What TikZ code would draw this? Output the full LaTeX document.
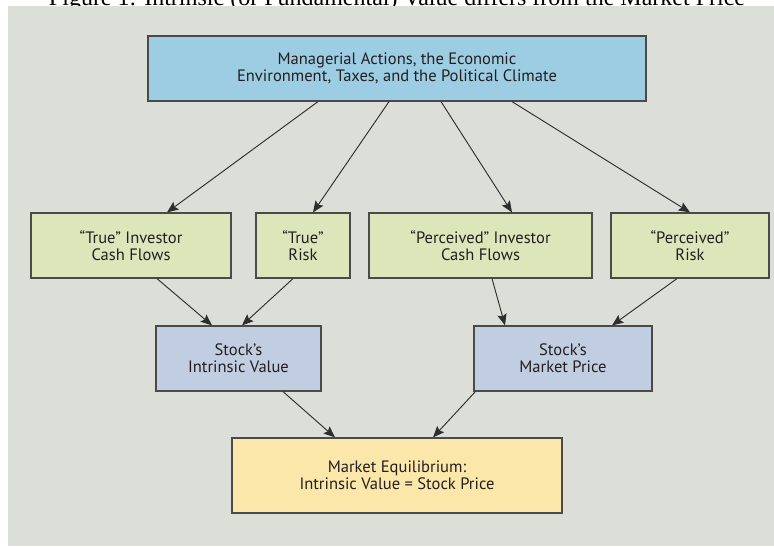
\documentclass[tikz,border=0pt]{standalone}
\usepackage{fontspec}
\setmainfont{PT Sans}
\newfontfamily\capfont{Liberation Serif}
\usepackage{tikz}
\usetikzlibrary{positioning,calc,arrows.meta}

\definecolor{panelgrey}{HTML}{DCDED8}
\definecolor{topblue}{HTML}{9CCDE3}
\definecolor{ingreen}{HTML}{DDE6BA}
\definecolor{valblue}{HTML}{C1CEE1}
\definecolor{eqyellow}{HTML}{FCE7AA}
\definecolor{boxline}{HTML}{4A4A4A}
\definecolor{arrline}{HTML}{2E2E2E}
\definecolor{inkdark}{HTML}{231F20}

\tikzset{
  box/.style={draw=boxline, line width=0.9pt, inner sep=0pt, align=center,
    minimum height=65*0.75pt, text=inkdark,
    font=\fontsize{12.4}{12.75}\selectfont},
  topbox/.style={box, fill=topblue},
  inbox/.style={box, fill=ingreen},
  valbox/.style={box, fill=valblue},
  eqbox/.style={box, fill=eqyellow, minimum height=75*0.75pt},
  arr/.style={-{Stealth[length=8.5pt,width=7pt,inset=1.5pt]}, draw=arrline, line width=0.7pt}
}

\begin{document}
\begin{tikzpicture}[x=0.75pt,y=-0.75pt]
    \useasboundingbox (0,0) rectangle (774,546);
    \clip (0,0) rectangle (774,546);

    % Caption (cut off at the top)
    \node[anchor=base, inner sep=0pt, font=\capfont\fontsize{18}{20}\selectfont] (title) at (397,5)
        {Figure 1: Intrinsic (or Fundamental) Value differs from the Market Price};

    % Panel
    \fill[panelgrey] (8,6) rectangle (774,546);

    % Driving forces
    \node[topbox, minimum width=498*0.75pt] (top) at (397,68.5)
        {Managerial Actions, the Economic\\Environment, Taxes, and the Political Climate};

    % Inputs
    \node[inbox, minimum width=200*0.75pt] (tcf) at (131,245.5) {``True'' Investor\\Cash Flows};
    \node[inbox, minimum width=94*0.75pt] (trisk) at (303,245.5) {``True''\\Risk};
    \node[inbox, minimum width=223*0.75pt] (pcf) at (480.5,245.5) {``Perceived'' Investor\\Cash Flows};
    \node[inbox, minimum width=158*0.75pt] (prisk) at (690,245.5) {``Perceived''\\Risk};

    % Values
    \node[valbox, minimum width=165*0.75pt] (iv) at (238.5,358.5) {Stock's\\Intrinsic Value};
    \node[valbox, minimum width=178*0.75pt] (mp) at (563,358.5) {Stock's\\Market Price};

    % Equilibrium
    \node[eqbox, minimum width=330*0.75pt] (eq) at (397,475.5)
        {Market Equilibrium:\\Intrinsic Value = Stock Price};

    % Arrows
    \draw[arr] ($(top.south)+(-79,0)$) -- ($(tcf.north)+(36,0)$);
    \draw[arr] ($(top.south)+(-8,0)$) -- ($(trisk.north)+(10,0)$);
    \draw[arr] ($(top.south)+(44,0)$) -- ($(pcf.north)+(31.5,0)$);
    \draw[arr] ($(top.south)+(115,0)$) -- (prisk.north);

    \draw[arr] ($(tcf.south)+(26,0)$) -- ($(iv.north)+(-26.5,0)$);
    \draw[arr] ($(trisk.south)+(-10,0)$) -- ($(iv.north)+(3.5,0)$);
    \draw[arr] ($(pcf.south)+(11.5,0)$) -- ($(mp.north)+(-58,0)$);
    \draw[arr] ($(prisk.south)+(-13,0)$) -- ($(mp.north)+(49,0)$);

    \draw[arr] ($(iv.south)+(44.5,0)$) -- ($(eq.north)+(-62,0)$);
    \draw[arr] ($(mp.south west)+(2,0)$) -- ($(eq.north)+(36,0)$);

\end{tikzpicture}
\end{document}
